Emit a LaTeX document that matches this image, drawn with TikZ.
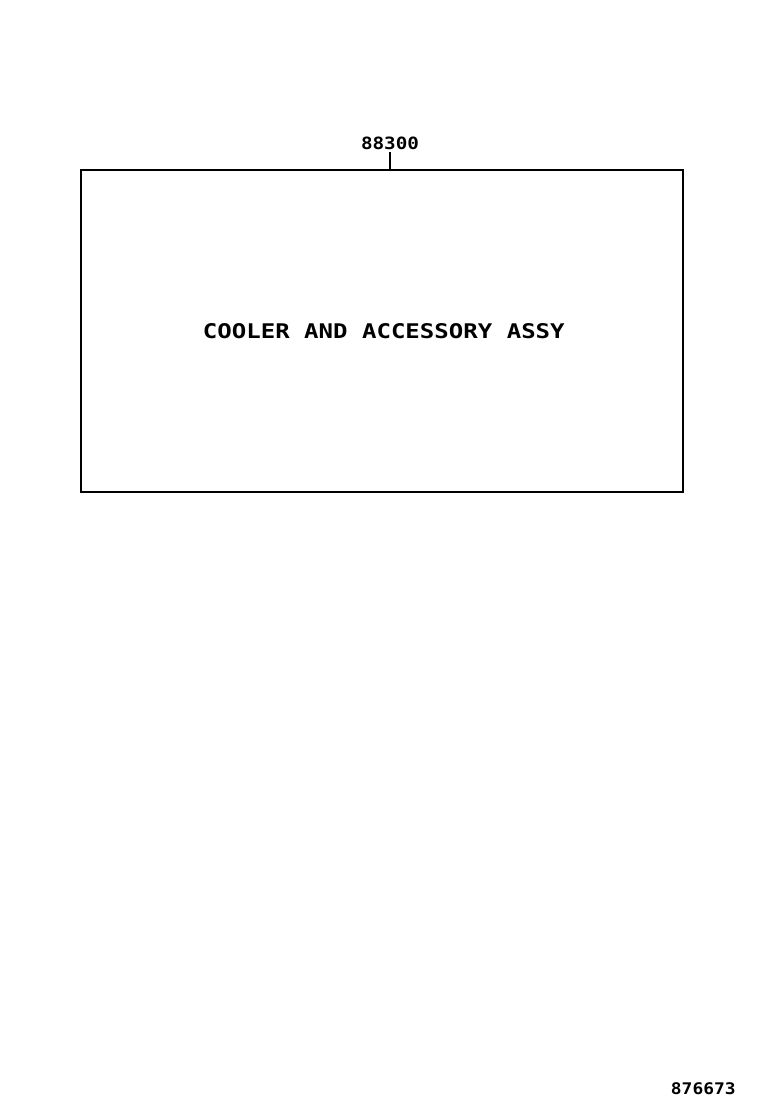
\documentclass[tikz,border=0pt]{standalone}
\usepackage{fontspec}
\newfontfamily\partfont{DejaVu Sans Mono}
\begin{document}
\begin{tikzpicture}[x=1pt,y=-1pt,
  frame/.style={draw=black,line width=1.4pt,minimum width=602pt,minimum height=322pt,inner sep=0pt},
  label/.style={inner sep=0pt,anchor=base,text=black},
  leader/.style={draw=black,line width=1.4pt}]
\useasboundingbox (0,0) rectangle (760,1112);
\node[frame] (box) at (382,331) {};
\node[label] (title) at (383.8,338.7) {\scalebox{1.19}[1]{\partfont\bfseries\fontsize{20.2}{22}\selectfont COOLER AND ACCESSORY ASSY}};
\node[label] (num) at (390,149) {\scalebox{1.14}[1]{\partfont\bfseries\fontsize{16.9}{18}\selectfont 88300}};
\coordinate (tickTop) at (390,152);
\draw[leader] (tickTop) -- (tickTop |- box.north);
\node[label] (ref) at (703.3,1094) {\scalebox{1.12}[1]{\partfont\bfseries\fontsize{16}{18}\selectfont 876673}};
\end{tikzpicture}
\end{document}
